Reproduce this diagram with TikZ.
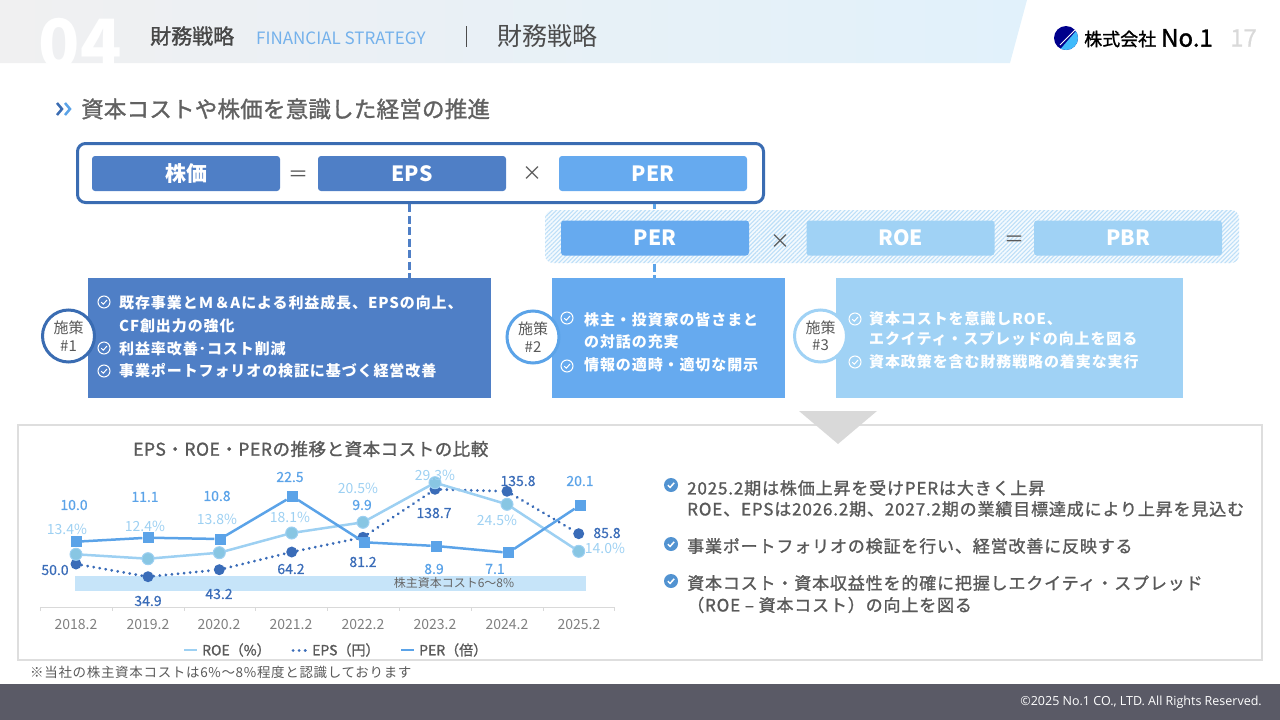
\documentclass[tikz,border=0pt]{standalone}
\usepackage{fontspec}
\setmainfont{Noto Sans CJK JP}
\newfontfamily\latinfont{Open Sans}
\newfontfamily\medfont[FakeBold=1.3]{Noto Sans CJK JP}
\newfontfamily\semifont[FakeBold=0.6]{Noto Sans CJK JP}
\usetikzlibrary{patterns.meta}
\definecolor{deepblue}{HTML}{4F7FC6}
\definecolor{edgeblue}{HTML}{3A6CB2}
\definecolor{midblue}{HTML}{66AAEF}
\definecolor{paleblue}{HTML}{A0D2F5}
\definecolor{perblue}{HTML}{5BA3E8}
\definecolor{roeblue}{HTML}{9DD0F2}
\definecolor{epsblue}{HTML}{3A6CB8}
\definecolor{darktext}{HTML}{595959}
\definecolor{footgray}{HTML}{5A5A66}
\definecolor{headleft}{HTML}{F0F0F1}
\definecolor{headmid}{HTML}{F6F7FB}
\definecolor{headright}{HTML}{E1F1FB}
\begin{document}
\begin{tikzpicture}[
    x=1pt, y=-1pt,
    formula/.style={rectangle, rounded corners=3pt, minimum width=188pt, minimum height=35pt,
        inner sep=0pt, text=white, font=\fontsize{21}{24}\selectfont\bfseries},
    operator/.style={inner sep=0pt, text=darktext, font=\fontsize{20}{24}\selectfont},
    plan/.style={rectangle, minimum height=120pt, inner sep=0pt},
    badge/.style={circle, draw, line width=3pt, fill=white, minimum size=52pt, inner sep=0pt,
        text=darktext, align=center, font=\fontsize{15}{17.5}\selectfont},
    planline/.style={anchor=west, inner sep=0pt, text=white,
        font=\fontsize{15}{18}\selectfont\bfseries\addfontfeature{LetterSpace=6}},
    link/.style={dashed, line width=3pt, dash pattern=on 8pt off 3.5pt},
    noteline/.style={anchor=west, inner sep=0pt, text=darktext,
        font=\fontsize{17}{20}\selectfont\medfont\addfontfeature{LetterSpace=5}},
    perdot/.style={rectangle, fill=perblue, minimum size=11pt, inner sep=0pt},
    roedot/.style={circle, draw=roeblue, line width=1pt, fill=paleblue!85!teal, minimum size=12pt, inner sep=0pt},
    epsdot/.style={circle, fill=epsblue, minimum size=11pt, inner sep=0pt},
    perline/.style={draw=perblue, line width=2.5pt},
    roeline/.style={draw=roeblue, line width=2.5pt},
    epsline/.style={draw=epsblue, line width=3pt, line cap=round, dash pattern=on 0.1pt off 6pt},
    perval/.style={inner sep=0pt, text=perblue, font=\fontsize{14}{16}\selectfont\semifont},
    roeval/.style={inner sep=0pt, text=roeblue, font=\fontsize{14}{16}\selectfont},
    epsval/.style={inner sep=0pt, text=epsblue, font=\fontsize{14}{16}\selectfont\semifont},
    yearlabel/.style={inner sep=0pt, text=black!50, font=\fontsize{14}{16}\selectfont},
    legendtext/.style={anchor=west, inner sep=0pt, text=darktext, font=\fontsize{14}{16}\selectfont\medfont},
    checkline/.pic={
        \draw[line width=1pt] (0,0) circle (6);
        \draw[line width=1pt] (-2.8,0.2) -- (-0.7,2.2) -- (3,-2);
    },
    checkfill/.pic={
        \fill[perblue!90!black] (0,0) circle (7);
        \draw[white, line width=1.5pt] (-3.2,0.2) -- (-0.9,2.4) -- (3.2,-2.2);
    }
]
\useasboundingbox (0,0) rectangle (1280,720);

\shade[left color=headleft, middle color=headmid, right color=headright, shading angle=90]
    (0,0) -- (1027,0) -- (1010,63) -- (0,63) -- cycle;
\node (SectionNo) [inner sep=0pt, text=white, font=\fontsize{68}{68}\selectfont\bfseries] at (80,44) {04};
\node (SectionJa) [inner sep=0pt, anchor=west, text=black!72, font=\fontsize{21}{24}\selectfont\medfont] at (150,36) {財務戦略};
\node (SectionEn) [inner sep=0pt, anchor=west, text=perblue!85!white, font=\fontsize{17}{20}\selectfont] at (256,38) {FINANCIAL STRATEGY};
\coordinate (BarTop) at (466,26);
\coordinate (BarEnd) at (466,47);
\draw[black!70, line width=1pt] (BarTop) -- (BarEnd);
\node (PageTitle) [inner sep=0pt, anchor=west, text=black!70, font=\fontsize{25}{28}\selectfont] at (497,36) {財務戦略};

\begin{scope}
    \clip (1066,38) circle (12);
    \fill[blue!55!black] (1052,24) rectangle (1080,52);
    \fill[paleblue!50!cyan!80!blue] (1082,24) -- (1058,52) -- (1082,52) -- cycle;
    \draw[white, line width=0.8pt] (1060,45) -- (1077,28);
\end{scope}
\node (LogoJa) [inner sep=0pt, anchor=west, font=\fontsize{18}{20}\selectfont\medfont] at (1084,39) {株式会社};
\node (LogoNo) [inner sep=0pt, anchor=west, font=\fontsize{24}{26}\selectfont\medfont] at (1161,38) {No.1};
\node (PageNo) [inner sep=0pt, anchor=west, text=black!15, font=\fontsize{24}{26}\selectfont\semifont] at (1230,38) {17};

\draw[edgeblue, line width=2.5pt] (57,103) -- (62,109) -- (57,115);
\draw[perblue, line width=2.5pt] (65,103) -- (70,109) -- (65,115);
\node (Headline) [inner sep=0pt, anchor=west, text=black!62, font=\fontsize{22.5}{26}\selectfont\medfont\addfontfeature{LetterSpace=1}] at (81,109) {資本コストや株価を意識した経営の推進};

\node (Frame) [rectangle, draw=edgeblue, line width=3pt, rounded corners=8pt, minimum width=686pt, minimum height=59pt] at (420.5,173) {};
\node (Price) [formula, fill=deepblue] at (186,173.5) {株価};
\node (OpEq01) [operator] at (298,176) {＝};
\node (Eps) [formula, fill=deepblue] at (412,173.5) {EPS};
\node (OpX01) [operator] at (532,174) {×};
\node (Per01) [formula, fill=midblue] at (653,173.5) {PER};

\node (Band) [rectangle, rounded corners=8pt, minimum width=694pt, minimum height=53pt, inner sep=0pt,
    preaction={fill=paleblue!12}, pattern={Lines[angle=45,distance=3pt,line width=1.1pt]}, pattern color=paleblue!70] at (892,236.5) {};
\node (Per02) [formula, fill=midblue] at (655,238) {PER};
\node (OpX02) [operator] at (780,242) {×};
\node (Roe) [formula, fill=paleblue] at (900.5,238) {ROE};
\node (OpEq02) [operator] at (1014,241) {＝};
\node (Pbr) [formula, fill=paleblue] at (1128,238) {PBR};

\node (Plan01) [plan, fill=deepblue, minimum width=403pt] at (289.5,338) {};
\node (Plan02) [plan, fill=midblue, minimum width=233pt] at (668.5,338) {};
\node (Plan03) [plan, fill=paleblue, minimum width=347pt] at (1009.5,338) {};

\draw[link, deepblue] (Frame.south -| 409,0) -- (Plan01.north -| 409,0);
\draw[link, perblue] (Frame.south -| 654,0) -- (Band.north -| 654,0);
\draw[link, perblue] (Band.south -| 654,0) -- (Plan02.north -| 654,0);

\node (Badge01) [badge, draw=edgeblue] at (68.5,336) {施策\\\#1};
\node (Badge02) [badge, draw=perblue] at (533,337) {施策\\\#2};
\node (Badge03) [badge, draw=paleblue] at (820.5,336) {施策\\\#3};

\pic[white] at (104,302) {checkline};
\pic[white] at (104,348) {checkline};
\pic[white] at (104,371) {checkline};
\node (PlanA1) [planline] at (119,303) {既存事業とＭ＆Aによる利益成長、EPSの向上、};
\node (PlanA2) [planline] at (119,326) {CF創出力の強化};
\node (PlanA3) [planline] at (119,349) {利益率改善･コスト削減};
\node (PlanA4) [planline] at (119,371) {事業ポートフォリオの検証に基づく経営改善};

\pic[white] at (567,318) {checkline};
\pic[white] at (567,366) {checkline};
\node (PlanB1) [planline] at (584,320) {株主・投資家の皆さまと};
\node (PlanB2) [planline] at (584,342) {の対話の充実};
\node (PlanB3) [planline] at (584,365) {情報の適時・適切な開示};

\pic[white] at (855,319) {checkline};
\pic[white] at (855,362) {checkline};
\node (PlanC1) [planline] at (869,319) {資本コストを意識しROE、};
\node (PlanC2) [planline] at (869,339) {エクイティ・スプレッドの向上を図る};
\node (PlanC3) [planline] at (869,362) {資本政策を含む財務戦略の着実な実行};

\node (Panel) [rectangle, draw=black!13, line width=1.5pt, minimum width=1244pt, minimum height=235pt] at (640,542.5) {};
\fill[black!15] (799,411) -- (877,411) -- (838,444) -- cycle;
\node (ChartTitle) [inner sep=0pt, anchor=west, text=darktext, font=\fontsize{17.5}{20}\selectfont\medfont\addfontfeature{LetterSpace=3}] at (133,449) {EPS・ROE・PERの推移と資本コストの比較};

\node (CostBand) [rectangle, fill=paleblue!60, minimum width=511pt, minimum height=15pt, inner sep=0pt] at (330.5,583) {};
\node (CostText) [inner sep=0pt, text=black!60, font=\fontsize{12}{13}\selectfont] at (454,583) {株主資本コスト6～8\%};

\draw[black!15, line width=1pt] (40,611) -- (40,607) -- (614,607) -- (614,611);
\draw[black!15, line width=1pt] (112,607) -- (112,611) (184,607) -- (184,611) (255,607) -- (255,611)
    (327,607) -- (327,611) (399,607) -- (399,611) (471,607) -- (471,611) (543,607) -- (543,611);
\node (Year18) [yearlabel] at (76,625) {2018.2};
\node (Year19) [yearlabel] at (148,625) {2019.2};
\node (Year20) [yearlabel] at (219,625) {2020.2};
\node (Year21) [yearlabel] at (291,625) {2021.2};
\node (Year22) [yearlabel] at (363,625) {2022.2};
\node (Year23) [yearlabel] at (435,625) {2023.2};
\node (Year24) [yearlabel] at (507,625) {2024.2};
\node (Year25) [yearlabel] at (579,625) {2025.2};

\node (EpsDot18) [epsdot] at (76,564) {};
\node (EpsDot19) [epsdot] at (148,576.7) {};
\node (EpsDot20) [epsdot] at (219.3,569.7) {};
\node (EpsDot21) [epsdot] at (291.7,552) {};
\node (EpsDot22) [epsdot] at (363,537.3) {};
\node (EpsDot23) [epsdot] at (435,489.3) {};
\node (EpsDot24) [epsdot] at (507,491.3) {};
\node (EpsDot25) [epsdot] at (578.7,533.7) {};
\draw[epsline] (EpsDot18) -- (EpsDot19) -- (EpsDot20) -- (EpsDot21) -- (EpsDot22) -- (EpsDot23) -- (EpsDot24) -- (EpsDot25);

\draw[roeline] (76,554.3) -- (148,558.7) -- (219.3,552.7) -- (291.7,533) -- (363,522.3) -- (435,482.7) -- (507,504.3) -- (578.7,551.3);
\node (RoeDot18) [roedot] at (76,554.3) {};
\node (RoeDot19) [roedot] at (148,558.7) {};
\node (RoeDot20) [roedot] at (219.3,552.7) {};
\node (RoeDot21) [roedot] at (291.7,533) {};
\node (RoeDot22) [roedot] at (363,522.3) {};
\node (RoeDot23) [roedot] at (435,482.7) {};
\node (RoeDot24) [roedot] at (507,504.3) {};
\node (RoeDot25) [roedot] at (578.7,551.3) {};

\node (PerDot18) [perdot] at (76,541.7) {};
\node (PerDot19) [perdot] at (148,537.7) {};
\node (PerDot20) [perdot] at (220,539) {};
\node (PerDot21) [perdot] at (292.3,496.3) {};
\node (PerDot22) [perdot] at (364.3,542.3) {};
\node (PerDot23) [perdot] at (436.3,546) {};
\node (PerDot24) [perdot] at (508.3,552.7) {};
\node (PerDot25) [perdot] at (580.3,505) {};
\draw[perline] (PerDot18) -- (PerDot19) -- (PerDot20) -- (PerDot21) -- (PerDot22) -- (PerDot23) -- (PerDot24) -- (PerDot25);

\node (PerVal18) [perval] at (74,505) {10.0};
\node (PerVal19) [perval] at (145,497) {11.1};
\node (PerVal20) [perval] at (217,496) {10.8};
\node (PerVal21) [perval] at (290,477) {22.5};
\node (PerVal22) [perval] at (362,505) {9.9};
\node (PerVal23) [perval] at (434,569) {8.9};
\node (PerVal24) [perval] at (495,569) {7.1};
\node (PerVal25) [perval] at (580,481) {20.1};

\node (RoeVal18) [roeval] at (67,529) {13.4\%};
\node (RoeVal19) [roeval] at (145,526) {12.4\%};
\node (RoeVal20) [roeval] at (217,519) {13.8\%};
\node (RoeVal21) [roeval] at (290,517) {18.1\%};
\node (RoeVal22) [roeval] at (358,488) {20.5\%};
\node (RoeVal23) [roeval] at (435,475) {29.3\%};
\node (RoeVal24) [roeval] at (497,520) {24.5\%};
\node (RoeVal25) [roeval] at (605,548) {14.0\%};

\node (EpsVal18) [epsval] at (55,570) {50.0};
\node (EpsVal19) [epsval] at (148,601) {34.9};
\node (EpsVal20) [epsval] at (219,594) {43.2};
\node (EpsVal21) [epsval] at (291,569) {64.2};
\node (EpsVal22) [epsval] at (363,562) {81.2};
\node (EpsVal23) [epsval] at (434,513) {138.7};
\node (EpsVal24) [epsval] at (518,481) {135.8};
\node (EpsVal25) [epsval] at (607,533) {85.8};

\coordinate (LegRoeA) at (184,650);
\coordinate (LegRoeB) at (197,650);
\coordinate (LegEpsA) at (293,650);
\coordinate (LegEpsB) at (306,650);
\coordinate (LegPerA) at (401,650);
\coordinate (LegPerB) at (414,650);
\draw[roeline] (LegRoeA) -- (LegRoeB);
\draw[epsline] (LegEpsA) -- (LegEpsB);
\draw[perline] (LegPerA) -- (LegPerB);
\node (LegRoe) [legendtext] at (202,650) {ROE（\%）};
\node (LegEps) [legendtext] at (312,650) {EPS（円）};
\node (LegPer) [legendtext] at (419,650) {PER（倍）};

\pic at (671,485) {checkfill};
\pic at (671,544) {checkfill};
\pic at (671,581) {checkfill};
\node (Note01) [noteline] at (687,488) {2025.2期は株価上昇を受けPERは大きく上昇};
\node (Note02) [noteline] at (687,509) {ROE、EPSは2026.2期、2027.2期の業績目標達成により上昇を見込む};
\node (Note03) [noteline] at (687,546) {事業ポートフォリオの検証を行い、経営改善に反映する};
\node (Note04) [noteline] at (687,583) {資本コスト・資本収益性を的確に把握しエクイティ・スプレッド};
\node (Note05) [noteline] at (687,605) {（ROE – 資本コスト）の向上を図る};

\node (Remark) [inner sep=0pt, anchor=west, text=darktext, font=\fontsize{13.5}{16}\selectfont\addfontfeature{LetterSpace=5}] at (30,672) {※当社の株主資本コストは6\%～8\%程度と認識しております};

\node (Footer) [rectangle, fill=footgray, minimum width=1280pt, minimum height=36pt, inner sep=0pt] at (640,702) {};
\node (Copyright) [inner sep=0pt, anchor=east, text=white, font=\fontsize{12.5}{14}\selectfont\latinfont] at (1262,702) {©2025 No.1 CO., LTD. All Rights Reserved.};

\end{tikzpicture}
\end{document}
